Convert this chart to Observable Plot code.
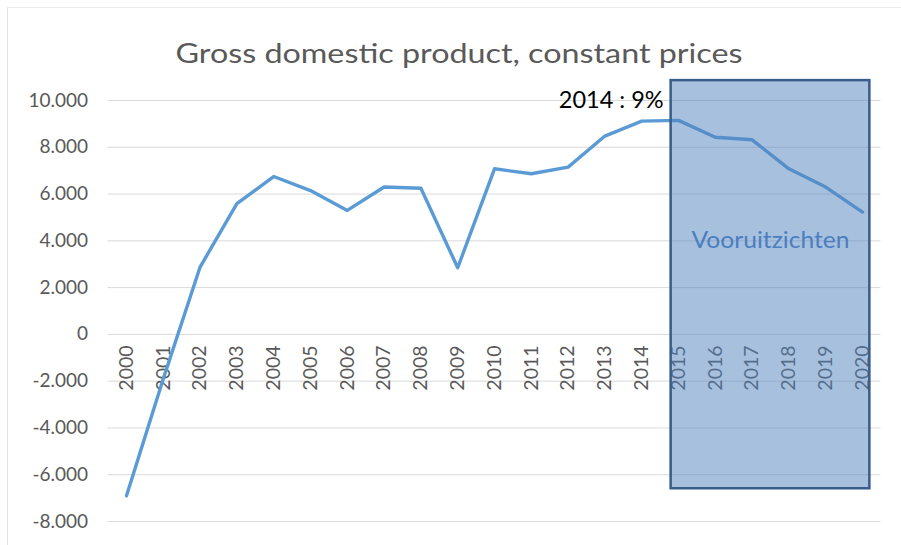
<!DOCTYPE html>
<html>
<head>
<meta charset="utf-8">
<script src="https://cdn.jsdelivr.net/npm/d3@7"></script>
<script src="https://cdn.jsdelivr.net/npm/@observablehq/plot@0.6"></script>
<style>
  html, body { margin: 0; padding: 0; background: #fff; }
  #wrap { position: relative; width: 901px; height: 545px; overflow: hidden; }
  #frame { position: absolute; left: 7px; top: 7px; width: 1000px; height: 1000px;
           border-left: 1px solid #e3e3e3; border-top: 1px solid #ececec; pointer-events: none; }
  #chart { position: absolute; left: 0; top: 0; }
</style>
</head>
<body>
<div id="wrap"><div id="frame"></div><div id="chart"></div></div>
<script>
// ---- data ----
const title = "Gross domestic product, constant prices";
const years = [2000, 2001, 2002, 2003, 2004, 2005, 2006, 2007, 2008, 2009, 2010,
               2011, 2012, 2013, 2014, 2015, 2016, 2017, 2018, 2019, 2020];
const gdp = [-6900, -1900, 2880, 5590, 6750, 6150, 5300, 6300, 6250, 2850, 7080,
             6870, 7150, 8480, 9120, 9150, 8430, 8320, 7080, 6300, 5230];
const yTicks = [-8000, -6000, -4000, -2000, 0, 2000, 4000, 6000, 8000, 10000];
// forecast region (years / values)
const forecastX = [2014.8, 2020.2];
const forecastY = [-6600, 10850];
const forecastLabel = ["Vooruitzichten"];
const forecastLabelPos = [2017.5, 4000];
const peakLabel = ["2014 : 9%"];
const peakLabelPos = [2014, 10000];

// ---- build ----
const nl = d3.formatLocale({decimal: ",", thousands: ".", grouping: [3], currency: ["€", ""], minus: "-"});
const fmt = nl.format(",.0f");
const rows = years.map((y, i) => ({year: y, value: gdp[i]}));
const font = "Lato, 'Open Sans', sans-serif";

const chart = Plot.plot({
  width: 901,
  height: 545,
  marginLeft: 107.6,
  marginRight: 20.6,
  marginTop: 100,
  marginBottom: 24,
  style: {fontFamily: font, color: "#595959", background: "transparent", overflow: "visible"},
  x: {domain: [1999.5, 2020.5], axis: null},
  y: {domain: [-8000, 10000], axis: null},
  marks: [
    Plot.ruleY(yTicks, {stroke: "#d9d9d9", strokeWidth: 1}),
    Plot.axisY(yTicks, {tickSize: 0, tickPadding: 20, tickFormat: fmt, fontSize: 19, label: null, fill: "#595959"}),
    Plot.text(years, {x: d => d, y: 0, text: d => String(d), rotate: -90, textAnchor: "end",
                      dy: 11, fontSize: 19.5, fill: "#595959"}),
    Plot.line(rows, {x: "year", y: "value", stroke: "#5b9bd5", strokeWidth: 3.4,
                     strokeLinejoin: "round", strokeLinecap: "round"}),
    Plot.rect([0], {x1: forecastX[0], x2: forecastX[1], y1: forecastY[0], y2: forecastY[1],
                    fill: "#4f81bd", fillOpacity: 0.5, stroke: "#385d8a", strokeWidth: 2.5}),
    Plot.text(forecastLabel, {x: forecastLabelPos[0], y: forecastLabelPos[1], text: d => d,
                              fontSize: 23.5, fill: "#4a7ebf"}),
    Plot.text(peakLabel, {x: peakLabelPos[0], y: peakLabelPos[1], text: d => d, textAnchor: "end",
                          dx: 22, fontSize: 23.5, fill: "#000"}),
    Plot.text([title], {frameAnchor: "top", text: d => d, dx: -35.5, dy: -57, fontSize: 27, fill: "#595959"})
  ]
});
// stretch the title to the reference's wider letterforms
d3.select(chart).selectAll("text")
  .filter(function() { return this.textContent === title; })
  .attr("textLength", 567).attr("lengthAdjust", "spacingAndGlyphs");
d3.select(chart).selectAll("text")
  .filter(function() { return this.textContent === forecastLabel[0]; })
  .attr("textLength", 158).attr("lengthAdjust", "spacingAndGlyphs");
document.getElementById("chart").appendChild(chart);
</script>
</body>
</html>
